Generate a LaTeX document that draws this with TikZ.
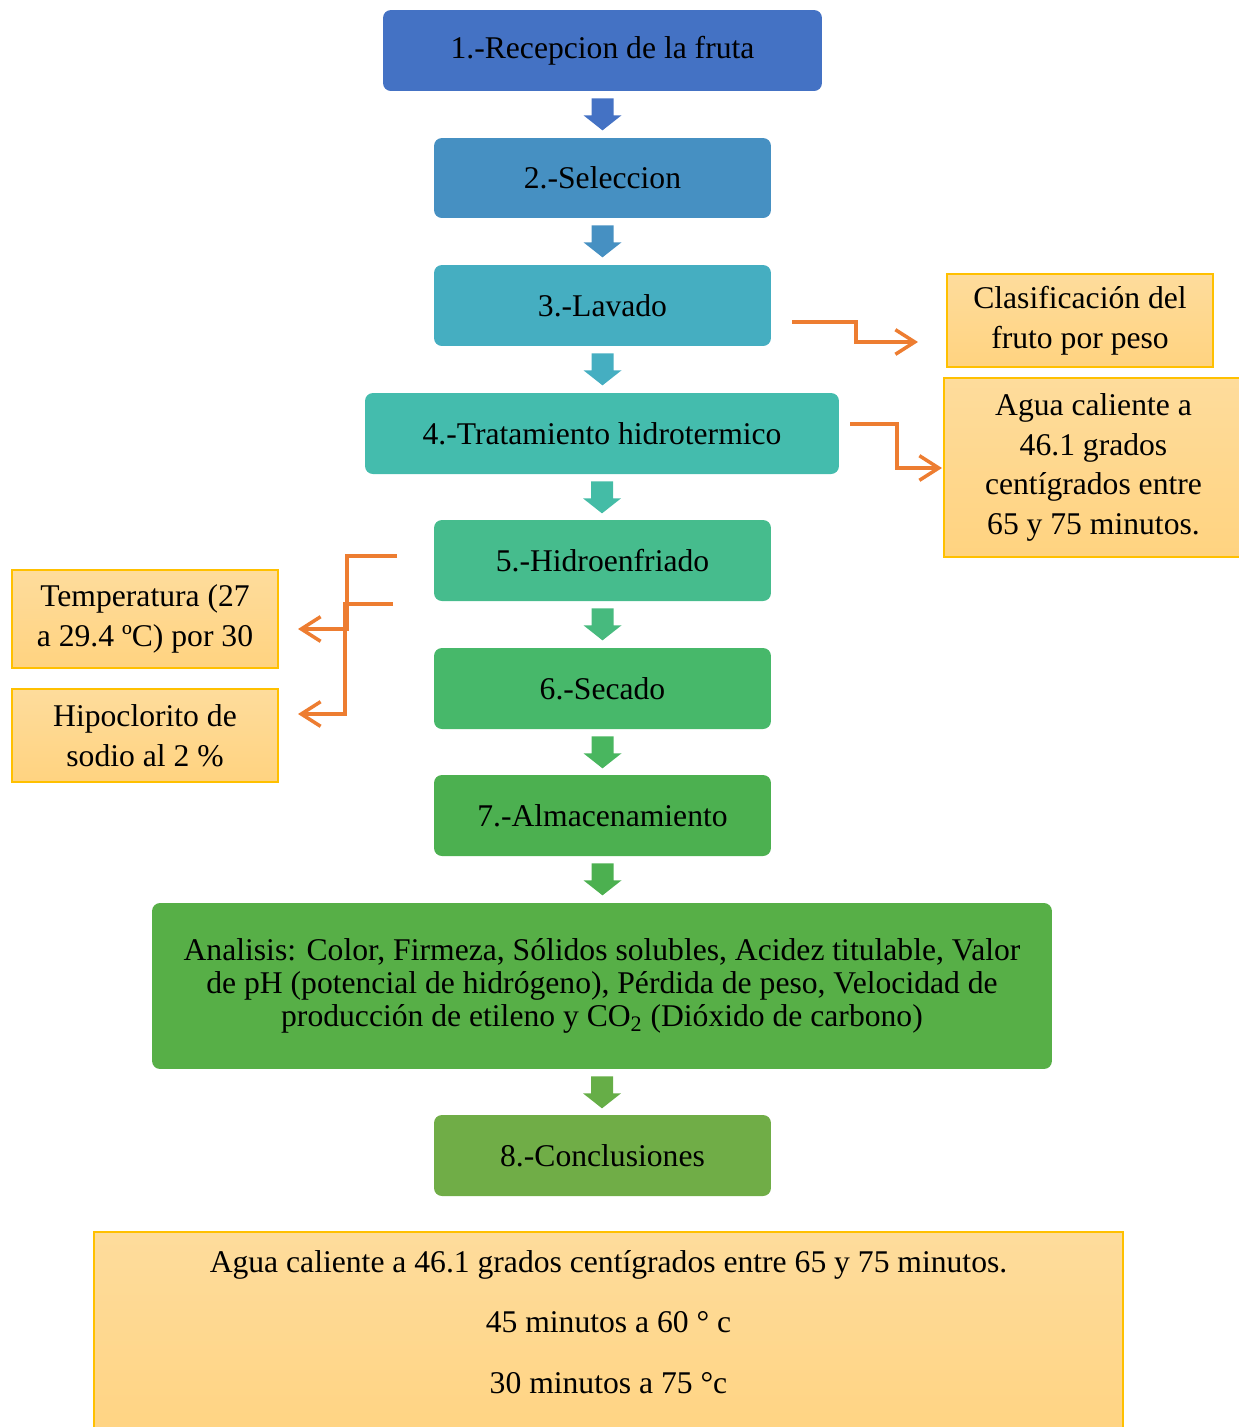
\documentclass[tikz,border=0pt]{standalone}
\usepackage{fontspec}
\setmainfont{Liberation Serif}
\usetikzlibrary{arrows.meta,calc}
\definecolor{cA}{HTML}{4472C4}
\definecolor{cB}{HTML}{4690C2}
\definecolor{cC}{HTML}{45AEC1}
\definecolor{cD}{HTML}{44BCAD}
\definecolor{cE}{HTML}{46BC8D}
\definecolor{cF}{HTML}{47B86A}
\definecolor{cG}{HTML}{4CB050}
\definecolor{cH}{HTML}{57AF47}
\definecolor{cI}{HTML}{70AD47}
\definecolor{aD}{HTML}{44BCA6}
\definecolor{aE}{HTML}{47BA7E}
\definecolor{aF}{HTML}{49B65F}
\definecolor{aH}{HTML}{66AE47}
\definecolor{orangeC}{HTML}{ED7D31}
\definecolor{noteBorder}{HTML}{FFC000}
\definecolor{noteTop}{HTML}{FEDC9C}
\definecolor{noteBot}{HTML}{FFD380}
\tikzset{
  proc/.style={rectangle, rounded corners=4.5pt, fill=#1, inner sep=0pt, align=center, text=black},
  note/.style={rectangle, draw=noteBorder, line width=0.9pt, top color=noteTop, bottom color=noteBot, inner sep=0pt, align=center, text=black},
  flow/.style={draw=orangeC, line width=2pt, line join=miter, -{Straight Barb[length=11pt,width=14pt,line width=2pt]}},
}
\newcommand\blockarr[2]{\fill[#1] ($(#2)+(-11,7)$) -- ++(22,0) -- ++(0,17) -- ++(8,0) -- ++(-19,15) -- ++(-19,-15) -- ++(8,0) -- cycle;}
\begin{document}
\begin{tikzpicture}[x=0.02cm, y=-0.02cm, font=\fontsize{18}{22.5}\selectfont]
\path[use as bounding box] (0,0) rectangle (1239,1427);
\clip (0,0) rectangle (1239,1427);
% main process boxes
\node[proc=cA, minimum width=8.78cm, minimum height=1.62cm] (b1) at (602.5,50.5) {1.-Recepcion de la fruta};
\node[proc=cB, minimum width=6.74cm, minimum height=1.60cm] (b2) at (602.5,178) {2.-Seleccion};
\node[proc=cC, minimum width=6.74cm, minimum height=1.62cm] (b3) at (602.5,305.5) {3.-Lavado};
\node[proc=cD, minimum width=9.48cm, minimum height=1.62cm] (b4) at (602,433.5) {4.-Tratamiento hidrotermico};
\node[proc=cE, minimum width=6.74cm, minimum height=1.62cm] (b5) at (602.5,560.5) {5.-Hidroenfriado};
\node[proc=cF, minimum width=6.74cm, minimum height=1.62cm] (b6) at (602.5,688.5) {6.-Secado};
\node[proc=cG, minimum width=6.74cm, minimum height=1.62cm] (b7) at (602.5,815.5) {7.-Almacenamiento};
\node[proc=cH, minimum width=18cm, minimum height=3.32cm, font=\fontsize{18}{18.7}\selectfont] (b8) at (602,986)
  {\rule{0pt}{8pt}Analisis: Color, Firmeza, Sólidos solubles, Acidez titulable, Valor\\
   de pH (potencial de hidrógeno), Pérdida de peso, Velocidad de\\
   producción de etileno y CO\textsubscript{2} (Dióxido de carbono)};
\node[proc=cI, minimum width=6.74cm, minimum height=1.62cm] (b9) at (602.5,1155.5) {8.-Conclusiones};
% block arrows
\blockarr{cA}{b1.south}
\blockarr{cB}{b2.south}
\blockarr{cC}{b3.south}
\blockarr{aD}{b4.south}
\blockarr{aE}{b5.south}
\blockarr{aF}{b6.south}
\blockarr{cG}{b7.south}
\blockarr{aH}{b8.south}
% side notes
\node[note, minimum width=5.32cm, minimum height=1.86cm] (n1) at (1080,320.5) {Clasificación del\\fruto por peso};
\node[note, minimum width=5.98cm, minimum height=3.58cm] (n2) at (1093.5,467.5) {Agua caliente a\\46.1 grados\\centígrados entre\\65 y 75 minutos.};
\node[note, minimum width=5.32cm, minimum height=1.96cm] (n3) at (145,619) {Temperatura (27\\a 29.4 ºC) por 30};
\node[note, minimum width=5.32cm, minimum height=1.86cm] (n4) at (145,735.5) {Hipoclorito de\\sodio al 2 \%};
% bottom note
\node[note, minimum width=20.58cm, minimum height=4.5cm, anchor=north] (n5) at (608.5,1231) {};
\node[align=center, inner sep=0pt, font=\fontsize{18}{34.6}\selectfont] (n5t) at (608.5,1322)
  {Agua caliente a 46.1 grados centígrados entre 65 y 75 minutos.\\45 minutos a 60 ° c\\30 minutos a 75 °c};
% orange connectors
\coordinate (s3) at (792,322);
\coordinate (e3) at (918,342);
\coordinate (s4) at (850,424);
\coordinate (e4) at (942,468);
\coordinate (s5a) at (397,556);
\coordinate (e5a) at (298,629);
\coordinate (s5b) at (393,604);
\coordinate (e5b) at (298,714);
\draw[flow] (s3) -- ++(64,0) |- (e3);
\draw[flow] (s4) -- ++(47,0) |- (e4);
\draw[flow] (s5a) -- ++(-50,0) |- (e5a);
\draw[flow] (s5b) -- ++(-48,0) |- (e5b);
\end{tikzpicture}
\end{document}
